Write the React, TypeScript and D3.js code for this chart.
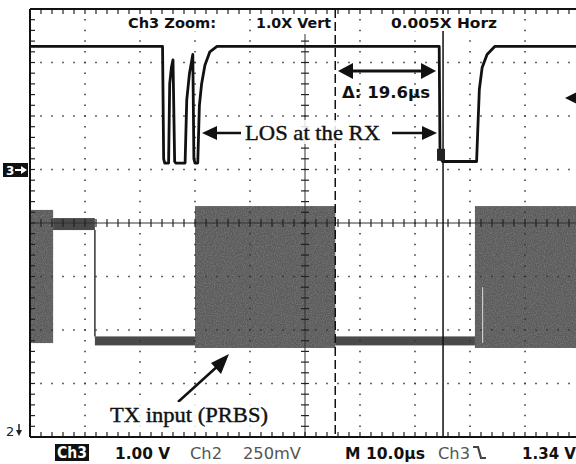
import React from "react";
import * as d3 from "d3";

// Time axis: 10 divisions x 10.0 µs
const timeDomain = [0, 100];
const divDomain = [-4, 4];
const gridTimes = [10, 20, 30, 40, 60, 70, 80, 90];
const gridDivs = [-3, -2, -1, 1, 2, 3];

// Ch3 trace (time µs, volts at 1.00 V/div, ground marker at +1 div)
const ch3Offset = 1;
const ch3Time = [0, 24.1, 24.3, 24.5, 25.2, 25.4, 25.7, 26.0, 26.3, 26.5, 28.2, 28.5, 29.0, 29.6, 29.8, 30.0, 30.5, 30.8, 31.2, 31.8, 32.7, 34, 74.4, 74.55, 75.0, 81.2, 81.4, 81.7, 82.2, 83.1, 84.5, 100];
const ch3Volts = [2.3, 2.3, 0.2, 0.12, 0.12, 1.6, 1.9, 2.05, 0.15, 0.12, 0.12, 1.3, 1.8, 2.15, 0.2, 0.12, 0.12, 1.2, 1.6, 1.95, 2.2, 2.3, 2.3, 0.25, 0.15, 0.15, 0.7, 1.5, 1.9, 2.15, 2.3, 2.3];

// Ch2 TX input (250 mV/div, mV relative to screen centre)
const ch2Start = [0, 4.2, 11.8, 30.0, 55.5, 80.9];
const ch2End = [4.2, 11.8, 30.0, 55.5, 80.9, 100];
const ch2Kind = ["prbs", "level", "level", "prbs", "level", "prbs"];
const ch2Low = [-561, -33, -572, -584, -572, -584];
const ch2High = [61, 23, -530, 79, -530, 79];

// Cursors (µs)
const cursorA = 55.5;
const cursorB = 75.1;

const W = 576;
const H = 464;

export default function App() {
  const x = d3.scaleLinear().domain(timeDomain).range([30, 580]);
  const y = d3.scaleLinear().domain(divDomain).range([437, 9]);
  const ch3 = ch3Time.map((t, i) => [t, ch3Volts[i]] as [number, number]);
  const line = d3
    .line<[number, number]>()
    .x((d) => x(d[0]))
    .y((d) => y(d[1] + ch3Offset));
  const ch2y = (mv: number) => y(mv / 250);

  const top = y(4);
  const bot = y(-4);
  const left = x(0);
  const cx = x(50);
  const cy = y(0);
  const minorX = (x(10) - x(0)) / 5;
  const minorY = (y(0) - y(1)) / 5;

  const ticksV: number[] = [];
  for (let i = 0; i <= 40; i++) ticksV.push(top + i * minorY);
  const ticksH: number[] = [];
  for (let i = 0; i <= 50; i++) ticksH.push(left + i * minorX);

  const sans = "'DejaVu Sans', Verdana, sans-serif";
  const serif = "'Liberation Serif', 'Times New Roman', serif";

  return (
    <svg
      width={W}
      height={H}
      style={{ position: "absolute", left: 0, top: 0, background: "#fff" }}
    >
      <defs>
        <filter id="grain" x="0" y="0" width="1" height="1">
          <feTurbulence type="fractalNoise" baseFrequency="0.9" numOctaves="2" seed="4" result="t" />
          <feColorMatrix in="t" type="matrix" values="0 0 0 0 0.2  0 0 0 0 0.2  0 0 0 0 0.2  0 0 0 1.6 -0.55" result="n" />
          <feComposite in="n" in2="SourceGraphic" operator="in" result="nc" />
          <feMerge>
            <feMergeNode in="SourceGraphic" />
            <feMergeNode in="nc" />
          </feMerge>
        </filter>
        <clipPath id="plot">
          <rect x={left} y={top} width={W - left} height={bot - top} />
        </clipPath>
      </defs>
      <rect x={0} y={0} width={W} height={H} fill="#fff" />

      <g clipPath="url(#plot)">
        {/* Ch2 bands */}
        {ch2Start.map((s, i) => (
          <rect
            key={"c2" + i}
            x={x(s)}
            y={ch2y(ch2High[i])}
            width={x(ch2End[i]) - x(s)}
            height={ch2y(ch2Low[i]) - ch2y(ch2High[i])}
            fill={ch2Kind[i] === "prbs" ? "#5a5a5a" : "#4a4a4a"}
            filter={ch2Kind[i] === "prbs" ? "url(#grain)" : undefined}
          />
        ))}
        {/* transition edge from middle level to low */}
        <line x1={x(ch2End[1])} x2={x(ch2End[1])} y1={ch2y(ch2Low[1])} y2={ch2y(ch2High[2])} stroke="#333" strokeWidth={1.5} />
        <line x1={x(82.3)} x2={x(82.3)} y1={ch2y(-300)} y2={ch2y(-560)} stroke="#ddd" strokeWidth={1} />

        {/* dotted grid */}
        {gridTimes.map((t) => (
          <line key={"gv" + t} x1={x(t)} x2={x(t)} y1={top} y2={bot} stroke="#333" strokeWidth={1.5} strokeDasharray={`1.5 ${minorY - 1.5}`} strokeDashoffset={0.75} />
        ))}
        {gridDivs.map((d) => (
          <line key={"gh" + d} x1={left} x2={W} y1={y(d)} y2={y(d)} stroke="#333" strokeWidth={1.5} strokeDasharray={`1.5 ${minorX - 1.5}`} strokeDashoffset={0.75} />
        ))}

        {/* centre axes with ticks */}
        <line x1={cx} x2={cx} y1={34} y2={bot} stroke="#333" strokeWidth={1} />
        <line x1={left} x2={W} y1={cy} y2={cy} stroke="#333" strokeWidth={1} />
        {ticksV.filter((v) => v > 34).map((v, i) => (
          <line key={"tv" + i} x1={cx - 4} x2={cx + 4} y1={v} y2={v} stroke="#222" strokeWidth={1.2} />
        ))}
        {ticksH.map((h, i) => (
          <line key={"th" + i} x1={h} x2={h} y1={cy - 4} y2={cy + 4} stroke="#222" strokeWidth={1.2} />
        ))}

        {/* frame ticks */}
        {ticksV.map((v, i) => (
          <line key={"lv" + i} x1={left} x2={left + 5} y1={v} y2={v} stroke="#222" strokeWidth={1.2} />
        ))}
        {ticksH.map((h, i) => (
          <g key={"bh" + i}>
            <line x1={h} x2={h} y1={bot} y2={bot - 5} stroke="#222" strokeWidth={1.2} />
            <line x1={h} x2={h} y1={top} y2={top + 5} stroke="#222" strokeWidth={1.2} />
          </g>
        ))}

        {/* cursors */}
        <line x1={x(cursorA)} x2={x(cursorA)} y1={top} y2={bot} stroke="#111" strokeWidth={1.5} strokeDasharray="9 4" />
        <line x1={x(cursorB)} x2={x(cursorB)} y1={top} y2={bot} stroke="#111" strokeWidth={1.5} />

        {/* Ch3 trace */}
        <path d={line(ch3) || ""} fill="none" stroke="#111" strokeWidth={2.8} strokeLinejoin="round" />
        <rect x={x(74.0)} y={y(0.2 + ch3Offset) - 10} width={8} height={12} fill="#222" />
      </g>

      {/* frame */}
      <line x1={left} x2={left} y1={top} y2={bot} stroke="#111" strokeWidth={2} />
      <line x1={left} x2={W} y1={top} y2={top} stroke="#111" strokeWidth={2} />
      <line x1={left} x2={W} y1={bot} y2={bot} stroke="#111" strokeWidth={2} />

      {/* top header */}
      <g fontFamily={sans} fontWeight="bold" fontSize={14} fill="#111">
        <rect x={124} y={14} width={96} height={17} fill="#fff" />
        <rect x={252} y={14} width={80} height={17} fill="#fff" />
        <rect x={387} y={14} width={114} height={17} fill="#fff" />
        <text x={128} y={28} textLength={88} lengthAdjust="spacingAndGlyphs">Ch3 Zoom:</text>
        <text x={256} y={28} textLength={75} lengthAdjust="spacingAndGlyphs">1.0X Vert</text>
        <text x={391} y={28} textLength={106} lengthAdjust="spacingAndGlyphs">0.005X Horz</text>
      </g>

      {/* delta arrow */}
      <line x1={350} x2={424} y1={71} y2={71} stroke="#111" strokeWidth={3} />
      <path d="M338,71 L353,63 L353,79 Z" fill="#111" />
      <path d="M436,71 L421,63 L421,79 Z" fill="#111" />
      <text x={342} y={98} fontFamily={sans} fontWeight="bold" fontSize={15} fill="#111" textLength={88} lengthAdjust="spacingAndGlyphs">Δ: 19.6µs</text>

      {/* LOS annotation */}
      <line x1={214} x2={241} y1={133} y2={133} stroke="#111" strokeWidth={2.5} />
      <path d="M202,133 L217,126 L217,140 Z" fill="#111" />
      <rect x={243} y={120} width={140} height={24} fill="#fff" opacity={0.85} />
      <text x={245} y={140} fontFamily={serif} fontSize={22} fill="#111" stroke="#111" strokeWidth={0.4} textLength={135} lengthAdjust="spacingAndGlyphs">LOS at the RX</text>
      <line x1={392} x2={426} y1={133} y2={133} stroke="#111" strokeWidth={2.5} />
      <path d="M437,133 L422,126 L422,140 Z" fill="#111" />

      {/* partial arrow at right edge */}
      <line x1={574} x2={580} y1={98} y2={98} stroke="#111" strokeWidth={2.5} />
      <path d="M565,98 L577,92 L577,104 Z" fill="#111" />

      {/* TX annotation */}
      <line x1={178} x2={220} y1={402} y2={364} stroke="#111" strokeWidth={2.5} />
      <path d="M229,354 L211,363 L221,374 Z" fill="#111" />
      <rect x={108} y={402} width={164} height={26} fill="#fff" opacity={0.85} />
      <text x={110} y={422} fontFamily={serif} fontSize={21} fill="#111" stroke="#111" strokeWidth={0.4} textLength={158} lengthAdjust="spacingAndGlyphs">TX input (PRBS)</text>

      {/* channel markers */}
      <rect x={3} y={163} width={25} height={14} fill="#111" />
      <text x={6} y={175} fontFamily={sans} fontWeight="bold" fontSize={12} fill="#fff">3</text>
      <path d="M15,170 H22" stroke="#fff" strokeWidth={2} />
      <path d="M27,170 L21,166 L21,174 Z" fill="#fff" />
      <text x={6} y={436} fontFamily={sans} fontSize={13} fill="#222">2</text>
      <path d="M19,424 V432" stroke="#222" strokeWidth={1.5} />
      <path d="M19,436 L16,430 L22,430 Z" fill="#222" />

      {/* status bar */}
      <rect x={55} y={444} width={34} height={17} fill="#111" />
      <g fontFamily={sans} fontWeight="bold" fontSize={15} fill="#111">
        <text x={57} y={458} fill="#fff" textLength={30} lengthAdjust="spacingAndGlyphs">Ch3</text>
        <text x={115} y={459} textLength={55} lengthAdjust="spacingAndGlyphs">1.00 V</text>
        <text x={345} y={459} textLength={80} lengthAdjust="spacingAndGlyphs">M 10.0µs</text>
        <text x={522} y={459} textLength={54} lengthAdjust="spacingAndGlyphs">1.34 V</text>
      </g>
      <g fontFamily={sans} fontSize={15} fill="#555">
        <text x={190} y={459} textLength={32} lengthAdjust="spacingAndGlyphs">Ch2</text>
        <text x={243} y={459} textLength={58} lengthAdjust="spacingAndGlyphs">250mV</text>
        <text x={438} y={459} textLength={32} lengthAdjust="spacingAndGlyphs">Ch3</text>
      </g>
      <path d="M473,447 H478 L481,458 H486" fill="none" stroke="#444" strokeWidth={2.2} />
    </svg>
  );
}
